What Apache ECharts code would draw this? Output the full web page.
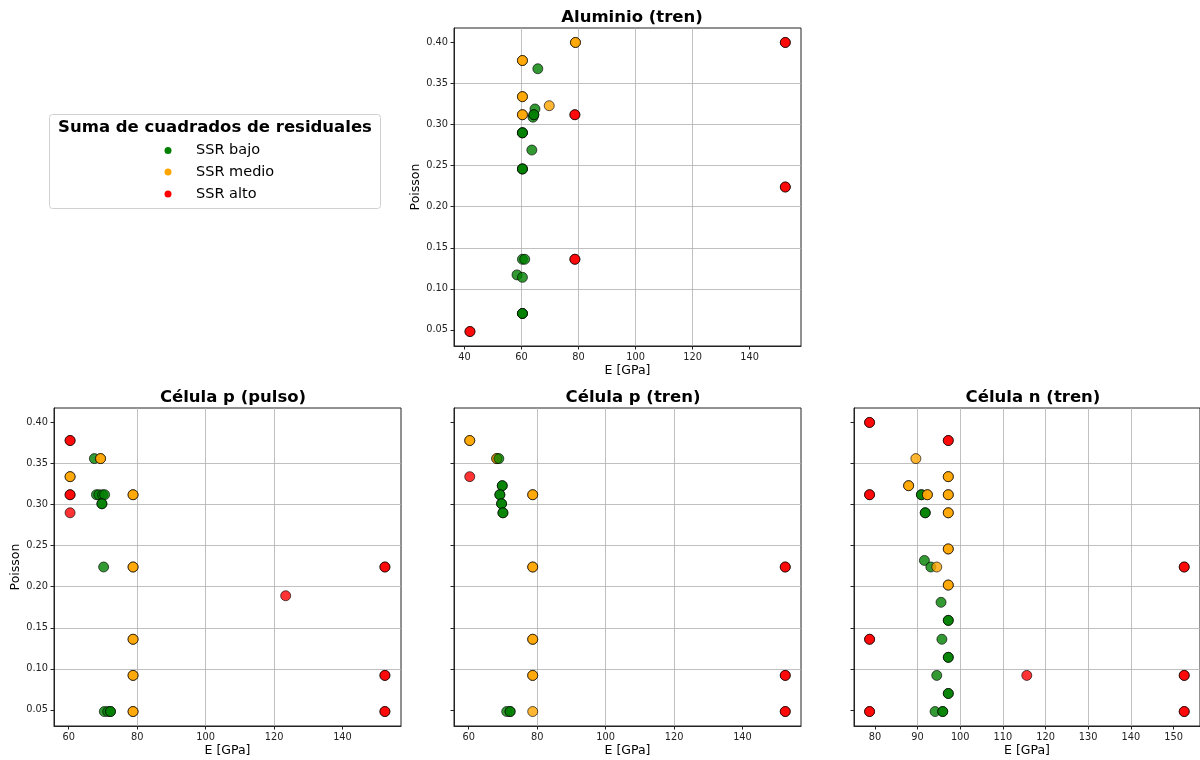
<!DOCTYPE html>
<html>
<head>
<meta charset="utf-8">
<title>SSR - E vs Poisson</title>
<script src="https://cdn.jsdelivr.net/npm/echarts@6/dist/echarts.min.js"></script>
<style>
	html, body { margin: 0; padding: 0; background: #fff; }
	#chart { width: 1200px; height: 760px; }
</style>
</head>
<body>
<div id="chart"></div>
<script>
	// ticks
	var xTicksAlu = [40, 60, 80, 100, 120, 140];
	var xTicksCelP = [60, 80, 100, 120, 140];
	var xTicksCelN = [80, 90, 100, 110, 120, 130, 140, 150];
	var yTicks = [0.05, 0.10, 0.15, 0.20, 0.25, 0.30, 0.35, 0.40];

	// Aluminio (tren)  [E, Poisson]
	var aluBajo = [[65.7, 0.368], [64.7, 0.319], [64.0, 0.309], [64.3, 0.312], [64.3, 0.312],
		[60.3, 0.290], [60.3, 0.290], [60.3, 0.290], [63.6, 0.269], [60.3, 0.246], [60.3, 0.246],
		[60.3, 0.246], [60.3, 0.136], [61.1, 0.136], [58.4, 0.117], [60.3, 0.114],
		[60.3, 0.070], [60.3, 0.070], [60.3, 0.070]];
	var aluMedio = [[78.9, 0.400], [78.9, 0.400], [60.3, 0.378], [60.3, 0.378], [60.3, 0.334],
		[60.3, 0.334], [60.3, 0.312], [60.3, 0.312], [69.7, 0.323]];
	var aluAlto = [[152.5, 0.400], [152.5, 0.400], [152.5, 0.224], [152.5, 0.224], [78.7, 0.312],
		[78.7, 0.312], [78.7, 0.136], [78.7, 0.136], [41.9, 0.048], [41.9, 0.048]];

	// Célula p (pulso)
	var pulsoBajo = [[67.5, 0.356], [68.1, 0.312], [68.8, 0.312], [69.9, 0.312], [70.5, 0.312],
		[69.7, 0.301], [69.7, 0.301], [70.2, 0.224], [70.4, 0.048], [71.4, 0.048], [72.2, 0.048],
		[72.2, 0.048]];
	var pulsoMedio = [[60.4, 0.334], [60.4, 0.334], [69.3, 0.356], [69.3, 0.356], [78.8, 0.312],
		[78.8, 0.312], [78.8, 0.224], [78.8, 0.224], [78.8, 0.136], [78.8, 0.136], [78.8, 0.092],
		[78.8, 0.092], [78.8, 0.048], [78.8, 0.048]];
	var pulsoAlto = [[60.4, 0.378], [60.4, 0.378], [60.4, 0.312], [60.4, 0.312], [60.4, 0.290],
		[152.4, 0.224], [152.4, 0.224], [123.4, 0.189], [152.4, 0.092], [152.4, 0.092],
		[152.4, 0.048], [152.4, 0.048]];

	// Célula p (tren)
	var trenPBajo = [[68.8, 0.356], [69.8, 0.323], [69.8, 0.323], [69.1, 0.312], [69.1, 0.312],
		[69.6, 0.301], [69.6, 0.301], [70.0, 0.290], [70.0, 0.290], [71.1, 0.048], [72.1, 0.048],
		[72.1, 0.048]];
	var trenPMedio = [[60.3, 0.378], [60.3, 0.378], [68.2, 0.356], [68.2, 0.356], [78.7, 0.312],
		[78.7, 0.312], [78.7, 0.224], [78.7, 0.224], [78.7, 0.136], [78.7, 0.136], [78.7, 0.092],
		[78.7, 0.092], [78.7, 0.048]];
	var trenPAlto = [[60.3, 0.334], [152.5, 0.224], [152.5, 0.224], [152.5, 0.092], [152.5, 0.092],
		[152.5, 0.048], [152.5, 0.048]];

	// Célula n (tren)
	var trenNBajo = [[90.9, 0.312], [90.9, 0.312], [91.8, 0.290], [91.8, 0.290], [91.6, 0.232],
		[93.1, 0.224], [95.5, 0.181], [97.2, 0.159], [97.2, 0.159], [95.7, 0.136], [97.2, 0.114],
		[97.2, 0.114], [94.5, 0.092], [97.2, 0.070], [97.2, 0.070], [94.1, 0.048], [95.9, 0.048],
		[95.9, 0.048]];
	var trenNMedio = [[89.6, 0.356], [97.2, 0.334], [97.2, 0.334], [87.9, 0.323], [87.9, 0.323],
		[92.3, 0.312], [92.3, 0.312], [97.2, 0.312], [97.2, 0.312], [97.2, 0.290], [97.2, 0.290],
		[97.2, 0.246], [97.2, 0.246], [94.5, 0.224], [97.2, 0.202], [97.2, 0.202]];
	var trenNAlto = [[78.75, 0.400], [78.75, 0.400], [97.2, 0.378], [97.2, 0.378], [78.75, 0.312],
		[78.75, 0.312], [78.75, 0.136], [78.75, 0.136], [78.75, 0.048], [78.75, 0.048],
		[152.5, 0.224], [152.5, 0.224], [115.6, 0.092], [152.5, 0.092], [152.5, 0.092],
		[152.5, 0.048], [152.5, 0.048]];

	var FONT = 'DejaVu Sans';
	var colBajo = '#008000', colMedio = '#FFA500', colAlto = '#FF0000';

	var chart = echarts.init(document.getElementById('chart'), null, { renderer: 'canvas' });

	function xAxisFn(grid, min, max, ticks) {
		return {
			type: 'value',
			gridIndex: grid,
			min: min,
			max: max,
			name: 'E [GPa]',
			nameLocation: 'middle',
			nameGap: 18,
			nameTextStyle: { fontFamily: FONT, fontSize: 12.5, color: '#000' },
			axisLine: { show: true, onZero: false, lineStyle: { color: '#222', width: 1 } },
			axisTick: { show: true, length: 3.5, customValues: ticks, lineStyle: { color: '#222' } },
			axisLabel: {
				customValues: ticks, margin: 6, fontFamily: FONT, fontSize: 9.8, color: '#222'
			},
			splitLine: { show: true, showMinLine: false, showMaxLine: false, lineStyle: { color: '#b0b0b0', width: 0.8 } }
		};
	};

	function yAxisFn(grid, showLabel) {
		return {
			type: 'value',
			gridIndex: grid,
			min: 0.0304,
			max: 0.4176,
			name: showLabel ? 'Poisson' : '',
			nameLocation: 'middle',
			nameGap: 31,
			nameTextStyle: { fontFamily: FONT, fontSize: 12.5, color: '#000' },
			axisLine: { show: true, onZero: false, lineStyle: { color: '#222', width: 1 } },
			axisTick: { show: true, length: 3.5, customValues: yTicks, lineStyle: { color: '#222' } },
			axisLabel: {
				show: showLabel, customValues: yTicks, margin: 6, fontFamily: FONT, fontSize: 9.8, color: '#222',
				formatter: function (v) { return v.toFixed(2); }
			},
			splitLine: { show: true, showMinLine: false, showMaxLine: false, lineStyle: { color: '#b0b0b0', width: 0.8 } }
		};
	};

	function scatterFn(name, color, idx, data) {
		return {
			type: 'scatter',
			name: name,
			xAxisIndex: idx,
			yAxisIndex: idx,
			data: data,
			symbolSize: 10,
			itemStyle: { color: color, opacity: 0.8, borderColor: '#000', borderWidth: 0.8 },
			emphasis: { disabled: true },
			animation: false
		};
	};

	function titleFn(text, x, y) {
		return {
			text: text, left: x, top: y, textAlign: 'center',
			textStyle: { fontFamily: FONT, fontSize: 16.5, fontWeight: 'bold', color: '#000' }
		};
	};

	var option = {
		backgroundColor: '#fff',
		animation: false,
		title: [
			titleFn('Aluminio (tren)', 627, 4),
			titleFn('Célula p (pulso)', 228, 384),
			titleFn('Célula p (tren)', 628, 384),
			titleFn('Célula n (tren)', 1028, 384)
		],
		grid: [
			{ left: 454, top: 28, width: 347, height: 318, show: true, borderColor: '#222', borderWidth: 1 },
			{ left: 54, top: 408, width: 347, height: 318, show: true, borderColor: '#222', borderWidth: 1 },
			{ left: 454, top: 408, width: 347, height: 318, show: true, borderColor: '#222', borderWidth: 1 },
			{ left: 854, top: 408, width: 347, height: 318, show: true, borderColor: '#222', borderWidth: 1 }
		],
		xAxis: [
			xAxisFn(0, 36.3, 158.0, xTicksAlu),
			xAxisFn(1, 55.7, 157.1, xTicksCelP),
			xAxisFn(2, 55.7, 157.1, xTicksCelP),
			xAxisFn(3, 75.1, 156.2, xTicksCelN)
		],
		yAxis: [
			yAxisFn(0, true),
			yAxisFn(1, true),
			yAxisFn(2, false),
			yAxisFn(3, false)
		],
		series: [
			scatterFn('SSR bajo', colBajo, 0, aluBajo),
			scatterFn('SSR medio', colMedio, 0, aluMedio),
			scatterFn('SSR alto', colAlto, 0, aluAlto),
			scatterFn('SSR bajo', colBajo, 1, pulsoBajo),
			scatterFn('SSR medio', colMedio, 1, pulsoMedio),
			scatterFn('SSR alto', colAlto, 1, pulsoAlto),
			scatterFn('SSR medio', colMedio, 2, trenPMedio),
			scatterFn('SSR bajo', colBajo, 2, trenPBajo),
			scatterFn('SSR alto', colAlto, 2, trenPAlto),
			scatterFn('SSR bajo', colBajo, 3, trenNBajo),
			scatterFn('SSR medio', colMedio, 3, trenNMedio),
			scatterFn('SSR alto', colAlto, 3, trenNAlto)
		],
		// leyenda con título
		graphic: [
			{
				type: 'rect', left: 49, top: 114, z: 10,
				shape: { width: 331, height: 94, r: 3 },
				style: { fill: '#fff', stroke: '#d0d0d0', lineWidth: 1 }
			},
			{
				type: 'text', x: 215, y: 128, z: 11,
				style: {
					text: 'Suma de cuadrados de residuales', fontFamily: FONT, fontSize: 16.5, fontWeight: 'bold',
					fill: '#000', align: 'center', verticalAlign: 'middle'
				}
			},
			{ type: 'circle', z: 11, shape: { cx: 168, cy: 150.5, r: 3.5 }, style: { fill: colBajo } },
			{ type: 'circle', z: 11, shape: { cx: 168, cy: 172, r: 3.5 }, style: { fill: colMedio } },
			{ type: 'circle', z: 11, shape: { cx: 168, cy: 194, r: 3.5 }, style: { fill: colAlto } },
			{
				type: 'text', x: 196, y: 150.5, z: 11,
				style: { text: 'SSR bajo', fontFamily: FONT, fontSize: 14.5, fill: '#000', verticalAlign: 'middle' }
			},
			{
				type: 'text', x: 196, y: 172, z: 11,
				style: { text: 'SSR medio', fontFamily: FONT, fontSize: 14.5, fill: '#000', verticalAlign: 'middle' }
			},
			{
				type: 'text', x: 196, y: 194, z: 11,
				style: { text: 'SSR alto', fontFamily: FONT, fontSize: 14.5, fill: '#000', verticalAlign: 'middle' }
			}
		]
	};
	chart.setOption(option);
</script>
</body>
</html>
